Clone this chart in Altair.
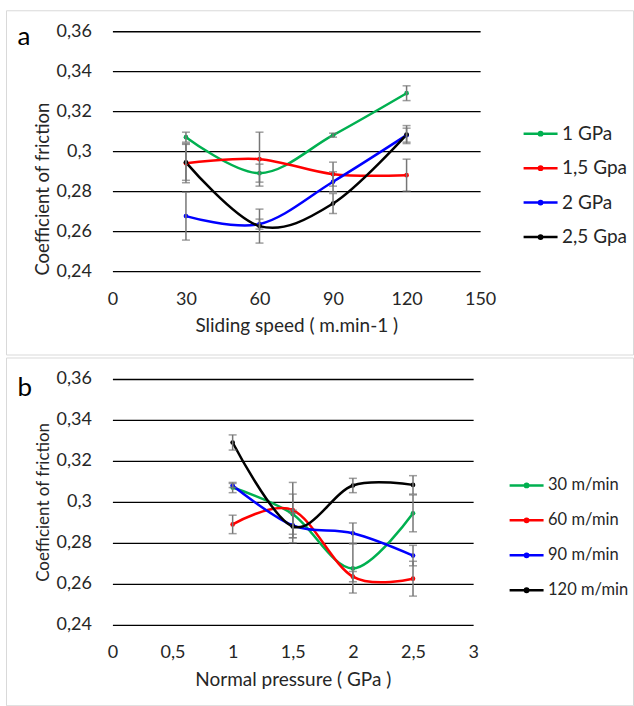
import altair as alt
import pandas as pd

# ---- data ----
pressures = [1, 1.5, 2, 2.5]
pressure_labels = ["1 GPa", "1,5 Gpa", "2 GPa", "2,5 Gpa"]
speeds = [30, 60, 90, 120]
speed_labels = ["30 m/min", "60 m/min", "90 m/min", "120 m/min"]

# coefficient of friction, one list per pressure, values at speeds 30/60/90/120
cof_p1 = [0.307, 0.289, 0.308, 0.329]
cof_p15 = [0.294, 0.296, 0.2885, 0.288]
cof_p2 = [0.2675, 0.2635, 0.2847, 0.308]
cof_p25 = [0.2944, 0.2625, 0.2738, 0.3083]
# error (half length of error bar)
err_p1 = [0.0025, 0.0045, 0.001, 0.0037]
err_p15 = [0.0098, 0.0135, 0.006, 0.008]
err_p2 = [0.012, 0.0025, 0.005, 0.0035]
err_p25 = [0.009, 0.0085, 0.005, 0.0045]

y_ticks = [0.24, 0.26, 0.28, 0.30, 0.32, 0.34, 0.36]
xa_ticks = [0, 30, 60, 90, 120, 150]
xb_ticks = [0, 0.5, 1, 1.5, 2, 2.5, 3]

colors = ["#00B050", "#FF0000", "#0000FF", "#000000"]

cof = [cof_p1, cof_p15, cof_p2, cof_p25]
err = [err_p1, err_p15, err_p2, err_p25]
rows = []
for i, p in enumerate(pressures):
    for j, s in enumerate(speeds):
        rows.append({
            "pressure": p, "plabel": pressure_labels[i], "porder": i,
            "speed": s, "slabel": speed_labels[j], "sorder": j,
            "cof": cof[i][j], "lo": cof[i][j] - err[i][j], "hi": cof[i][j] + err[i][j],
        })
df = pd.DataFrame(rows)

FONT = "Lato"
FS = 18
TXT = "#262626"
SYMBOL = "M-1,0L1,0M0.1,0A0.1,0.1,0,1,1,-0.1,0A0.1,0.1,0,1,1,0.1,0Z"


def y_axis(title_y, title_size):
    return alt.Axis(
        values=y_ticks,
        labelExpr="replace(format(datum.value, '.2~f'), '.', ',')",
        grid=True, gridColor="#000000", gridWidth=1.3,
        domain=False, ticks=False,
        labelPadding=21, labelFontSize=FS, labelFont=FONT, labelColor=TXT,
        title="Coefficient of friction", titleFont=FONT, titleFontSize=title_size,
        titleFontWeight="normal", titleColor=TXT,
        titleX=-64, titleY=title_y, titleAngle=270, titleBaseline="alphabetic",
        titleAlign="center",
    )


def x_axis(values, title, lab_pad, title_y, title_size):
    return alt.Axis(
        values=values,
        labelExpr="replace(format(datum.value, '~g'), '.', ',')",
        grid=False, domain=False, ticks=False,
        labelPadding=lab_pad, labelFontSize=FS, labelFont=FONT, labelColor=TXT,
        labelFlush=False,
        title=title, titleFont=FONT, titleFontSize=title_size, titleFontWeight="normal",
        titleColor=TXT, titleY=title_y, titleBaseline="alphabetic",
    )


def panel(xfield, xdom, xvals, xtitle, series, series_labels, order, w, h,
          letter, letter_y, legend_x, legend_y, leg_fs, leg_pad, lab_pad, xt_y,
          yt_y, yt_size, xt_size, frame_y, frame_y2):
    ys = alt.Scale(domain=[0.24, 0.36], nice=False, zero=False)
    xs = alt.Scale(domain=xdom, nice=False, zero=False)
    yax = y_axis(yt_y, yt_size)
    xax = x_axis(xvals, xtitle, lab_pad, xt_y, xt_size)
    base = alt.Chart(df)
    lines = base.mark_line(
        interpolate="cardinal", strokeWidth=2.5,
        point=alt.OverlayMarkDef(filled=True, size=22),
    ).encode(
        x=alt.X(f"{xfield}:Q", scale=xs, axis=xax),
        y=alt.Y("cof:Q", scale=ys, axis=yax),
        color=alt.Color(
            f"{series}:N",
            scale=alt.Scale(domain=series_labels, range=colors),
            sort=series_labels,
            legend=alt.Legend(
                title=None, orient="none", legendX=legend_x, legendY=legend_y,
                symbolType=SYMBOL, symbolSize=34 * 34, symbolStrokeWidth=2.5,
                labelFont=FONT, labelFontSize=leg_fs, labelColor=TXT,
                labelOffset=3, rowPadding=leg_pad, padding=0,
            ),
        ),
        order=alt.Order(f"{order}:Q"),
    )
    bars = base.mark_errorbar(ticks=True, size=8, thickness=1.5, color="#767676").encode(
        x=alt.X(f"{xfield}:Q", scale=xs, axis=xax),
        y=alt.Y("lo:Q", scale=ys, axis=yax),
        y2="hi:Q",
    )
    deco = pd.DataFrame({"t": [letter]})
    frame = alt.Chart(deco).mark_rect(fill=None, stroke="#d9d9d9", strokeWidth=1).encode(
        x=alt.value(-106), x2=alt.value(521.5), y=alt.value(frame_y), y2=alt.value(frame_y2),
    )
    label = alt.Chart(deco).mark_text(
        align="left", baseline="alphabetic", fontSize=26, font=FONT, color="#000000",
    ).encode(text="t:N", x=alt.value(-95), y=alt.value(letter_y))
    return alt.layer(frame, lines, bars, label).properties(width=w, height=h)


pa = panel("speed", [0, 150], xa_ticks, "Sliding speed ( m.min-1 )", "plabel",
           pressure_labels, "speed", 368, 240, "a", 14, 410, 84, 19, 5.5, 19.5, 60,
           157.5, 18.5, 19, -20.5, 324)
pb = panel("pressure", [0, 3], xb_ticks, "Normal pressure ( GPa )", "slabel",
           speed_labels, "pressure", 361, 246, "b", 17, 396, 88, 16.5, 8, 18.5, 61,
           123, 17, 19, -21, 327)

chart = alt.vconcat(pa, pb, spacing=1).resolve_scale(color="independent").properties(
    padding={"left": 5.5, "top": 10, "right": 0, "bottom": 0},
    background="white",
).configure_view(stroke=None)

chart.save("out.html", embed_options={"renderer": "svg", "actions": False})
